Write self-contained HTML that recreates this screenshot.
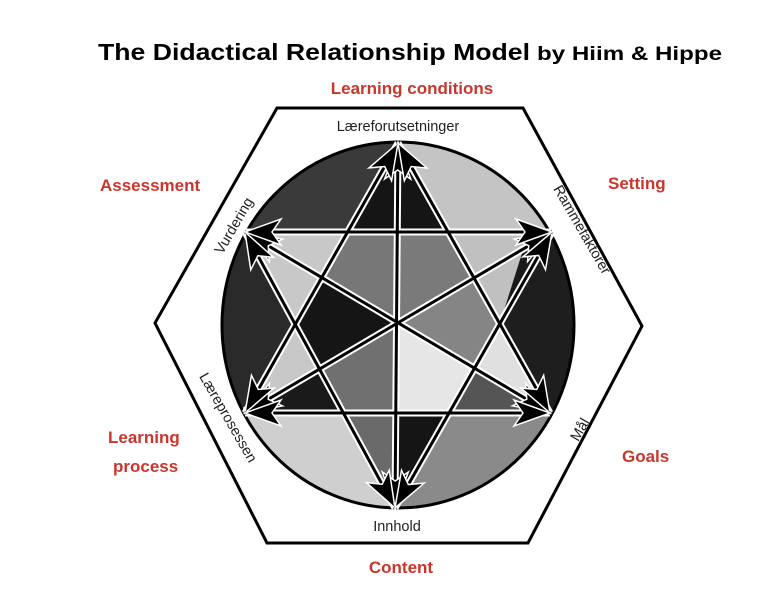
<!DOCTYPE html>
<html><head><meta charset="utf-8"><style>
html,body{margin:0;background:#fff;width:766px;height:604px;overflow:hidden;}
svg{display:block;}
.t{font-family:"Liberation Sans",sans-serif;font-weight:bold;}
.r{font-family:"Liberation Sans",sans-serif;font-weight:bold;fill:#c8372d;font-size:17px;}
.g{font-family:"Liberation Sans",sans-serif;fill:#222;font-size:14.5px;}
</style></head><body>
<svg width="766" height="604" viewBox="0 0 766 604" xmlns="http://www.w3.org/2000/svg">
<defs>
<clipPath id="c"><ellipse cx="398" cy="325" rx="176" ry="183"/></clipPath>
<marker id="a" viewBox="-4 -17 44 34" refX="36" refY="0" markerWidth="44" markerHeight="34" markerUnits="userSpaceOnUse" orient="auto-start-reverse">
<path d="M0,-13 L36,0 L0,13 L9,0 Z" fill="#000" stroke="#fff" stroke-width="1.5"/>
</marker>
</defs>
<text x="98" y="60" class="t" font-size="23.5" textLength="432" lengthAdjust="spacingAndGlyphs">The Didactical Relationship Model</text>
<text x="537" y="60" class="t" font-size="19" textLength="185" lengthAdjust="spacingAndGlyphs">by Hiim &amp; Hippe</text>
<text x="412" y="94" class="r" text-anchor="middle">Learning conditions</text>
<text x="100" y="191" class="r">Assessment</text>
<text x="608" y="189" class="r">Setting</text>
<text x="108" y="443" class="r">Learning</text>
<text x="113" y="472" class="r">process</text>
<text x="622" y="462" class="r">Goals</text>
<text x="401" y="573" class="r" text-anchor="middle">Content</text>

<polygon points="277,108 523,108 642,326 528,543 267,543 155,323" fill="#fff" stroke="#000" stroke-width="3"/>

<g clip-path="url(#c)">
<polygon points="398,325 398,-300 900,-300 860,46" fill="#c4c4c4"/>
<polygon points="398,325 860,46 900,700 860,590" fill="#1e1e1e"/>
<polygon points="398,325 860,590 700,900 385,900" fill="#8a8a8a"/>
<polygon points="398,325 385,900 -100,900 -100,590" fill="#cfcfcf"/>
<polygon points="398,325 -100,590 -100,46" fill="#2a2a2a"/>
<polygon points="398,325 -100,46 -100,-300 398,-300" fill="#3a3a3a"/>
<polygon points="398,143 348,232 448,232" fill="#151515"/>
<polygon points="245,232 348,232 297,323" fill="#c8c8c8"/>
<polygon points="552,232 448,232 500,323" fill="#c0c0c0"/>
<polygon points="524,247 500,323 552,232" fill="#1a1a1a"/>
<polygon points="245,413 343,413 297,323" fill="#c8c8c8"/>
<polygon points="245,413 343,413 320,370" fill="#1a1a1a"/>
<polygon points="550,413 449,413 500,323" fill="#e0e0e0"/>
<polygon points="550,413 449,413 475,370" fill="#555"/>
<polygon points="395,508 343,413 396,413" fill="#6a6a6a"/>
<polygon points="395,508 396,413 449,413" fill="#151515"/>
<polygon points="398,325 398,232 348,232 322,277" fill="#777"/>
<polygon points="398,325 398,232 448,232 475,277" fill="#7a7a7a"/>
<polygon points="398,325 475,277 500,323 475,370" fill="#858585"/>
<polygon points="398,325 475,370 449,413 396,413" fill="#e6e6e6"/>
<polygon points="398,325 396,413 343,413 320,370" fill="#707070"/>
<polygon points="398,325 320,370 297,323 322,277" fill="#151515"/>
</g>
<ellipse cx="398" cy="325" rx="176" ry="183" fill="none" stroke="#000" stroke-width="3"/>

<g stroke="#fff" stroke-width="7" fill="none">
<line x1="398" y1="143" x2="395" y2="508"/><line x1="245" y1="232" x2="550" y2="413"/><line x1="552" y1="232" x2="245" y2="413"/>
<line x1="398" y1="143" x2="245" y2="413"/><line x1="398" y1="143" x2="550" y2="413"/><line x1="245" y1="413" x2="550" y2="413"/>
<line x1="395" y1="508" x2="245" y2="232"/><line x1="395" y1="508" x2="552" y2="232"/><line x1="245" y1="232" x2="552" y2="232"/>
</g>
<g stroke="#000" stroke-width="3" fill="none" marker-start="url(#a)" marker-end="url(#a)">
<line x1="398" y1="143" x2="395" y2="508"/><line x1="245" y1="232" x2="550" y2="413"/><line x1="552" y1="232" x2="245" y2="413"/>
<line x1="398" y1="143" x2="245" y2="413"/><line x1="398" y1="143" x2="550" y2="413"/><line x1="245" y1="413" x2="550" y2="413"/>
<line x1="395" y1="508" x2="245" y2="232"/><line x1="395" y1="508" x2="552" y2="232"/><line x1="245" y1="232" x2="552" y2="232"/>
</g>

<text x="398" y="131" class="g" text-anchor="middle">Læreforutsetninger</text>
<text x="397" y="531" class="g" text-anchor="middle">Innhold</text>
<text class="g" text-anchor="middle" transform="translate(238,228) rotate(-60)">Vurdering</text>
<text class="g" text-anchor="middle" transform="translate(578,232) rotate(60)">Rammefaktorer</text>
<text class="g" text-anchor="middle" transform="translate(224,420) rotate(60)">Læreprosessen</text>
<text class="g" text-anchor="middle" transform="translate(584,432) rotate(-60)">Mål</text>
</svg>
</body></html>
